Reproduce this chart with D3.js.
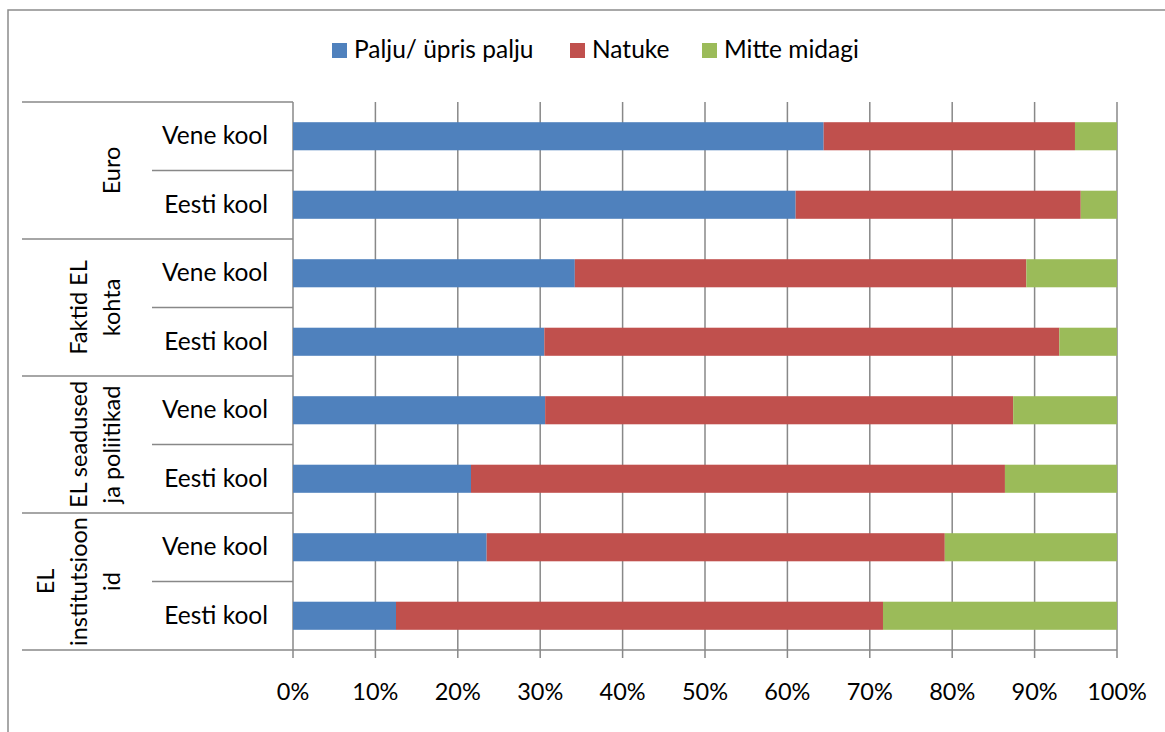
<!DOCTYPE html>
<html>
<head>
<meta charset="utf-8">
<script src="https://cdn.jsdelivr.net/npm/d3@7"></script>
<style>
  body { margin: 0; background: #fff; }
  text { font-family: Lato, "Open Sans", sans-serif; fill: #000; }
</style>
</head>
<body>
<svg id="chart"></svg>
<script>
// data
var groups = [["Euro"], ["Faktid EL", "kohta"], ["EL seadused", "ja poliitikad"], ["EL", "institutsioon", "id"]];
var schools = ["Vene kool", "Eesti kool"];
var seriesNames = ["Palju/ üpris palju", "Natuke", "Mitte midagi"];
var palju = [64.4, 61.0, 34.2, 30.5, 30.6, 21.6, 23.5, 12.5];
var natuke = [30.5, 34.6, 54.8, 62.5, 56.8, 64.8, 55.6, 59.1];
var mitte = [5.1, 4.4, 11.0, 7.0, 12.6, 13.6, 20.9, 28.4];
var ticks = [0, 10, 20, 30, 40, 50, 60, 70, 80, 90, 100];
var colors = ["#4F81BD", "#C0504D", "#9BBB59"];

var width = 1165, height = 732;
var fs = "23.5px", fsBig = "24.5px";
var svg = d3.select("#chart").attr("width", width).attr("height", height);

// outer chart border (right/bottom fall off the picture)
svg.append("rect").attr("x", 8).attr("y", 10).attr("width", 1170).attr("height", 740)
  .attr("fill", "none").attr("stroke", "#8c8c8c").attr("stroke-width", 1.5);

var plotL = 293, plotR = 1117, plotT = 102, plotB = 650;
var axisCol = "#888";

// rows: one per group/school pair
var rows = [];
groups.forEach(function (g, gi) {
  schools.forEach(function (s, si) {
    var i = gi * 2 + si;
    rows.push({ id: i, group: gi, school: s, palju: palju[i], natuke: natuke[i], mitte: mitte[i] });
  });
});

var x = d3.scaleLinear().domain([0, 100]).range([plotL, plotR]);
var y = d3.scaleBand().domain(rows.map(function (d) { return d.id; }))
  .range([plotT, plotB]).paddingInner(0.59).paddingOuter(0.295);
var step = y.step();

// gridlines with tick stubs below
svg.append("g").selectAll("line").data(ticks).enter().append("line")
  .attr("x1", function (d) { return x(d); }).attr("x2", function (d) { return x(d); })
  .attr("y1", plotT).attr("y2", plotB + 8)
  .attr("stroke", axisCol).attr("stroke-width", 1.5);

// bottom axis line
svg.append("line").attr("x1", plotL).attr("x2", plotR).attr("y1", plotB).attr("y2", plotB)
  .attr("stroke", axisCol).attr("stroke-width", 1.5);

// tick labels
svg.append("g").selectAll("text").data(ticks).enter().append("text")
  .attr("x", function (d) { return x(d); }).attr("y", 700)
  .attr("text-anchor", "middle").style("font-size", fs)
  .text(function (d) { return d + "%"; });

// stacked bars
var stack = d3.stack().keys(["palju", "natuke", "mitte"]);
var layers = stack(rows);
svg.append("g").selectAll("g").data(layers).enter().append("g")
  .attr("fill", function (d, i) { return colors[i]; })
  .selectAll("rect").data(function (d) { return d; }).enter().append("rect")
  .attr("x", function (d) { return x(d[0]); })
  .attr("width", function (d) { return x(d[1]) - x(d[0]); })
  .attr("y", function (d) { return y(d.data.id); })
  .attr("height", y.bandwidth());

// category axis: group separators and school separators
var groupLines = d3.range(groups.length + 1);
svg.append("g").selectAll("line").data(groupLines).enter().append("line")
  .attr("x1", 22).attr("x2", plotL)
  .attr("y1", function (d) { return plotT + d * step * 2; })
  .attr("y2", function (d) { return plotT + d * step * 2; })
  .attr("stroke", axisCol).attr("stroke-width", 1.5);
svg.append("g").selectAll("line").data(groups).enter().append("line")
  .attr("x1", 152).attr("x2", plotL)
  .attr("y1", function (d, i) { return plotT + (i * 2 + 1) * step; })
  .attr("y2", function (d, i) { return plotT + (i * 2 + 1) * step; })
  .attr("stroke", axisCol).attr("stroke-width", 1.5);

// school labels
svg.append("g").selectAll("text").data(rows).enter().append("text")
  .attr("x", 268)
  .attr("y", function (d) { return y(d.id) + y.bandwidth() / 2 + 8; })
  .attr("text-anchor", "end").style("font-size", fsBig)
  .text(function (d) { return d.school; });

// group labels, rotated, lines stacked towards the left
groups.forEach(function (lines, gi) {
  var cy = plotT + (gi * 2 + 1) * step;
  var n = lines.length;
  lines.forEach(function (t, li) {
    var cx = 112 - (n - 1 - li) * 33 + 8;
    svg.append("text")
      .attr("transform", "translate(" + cx + "," + cy + ") rotate(-90)")
      .attr("text-anchor", "middle").style("font-size", fs)
      .text(t);
  });
});

// legend
var legX = [332, 570, 702];
var leg = svg.append("g").selectAll("g").data(seriesNames).enter().append("g")
  .attr("transform", function (d, i) { return "translate(" + legX[i] + ",43)"; });
leg.append("rect").attr("width", 15).attr("height", 15)
  .attr("fill", function (d, i) { return colors[i]; });
leg.append("text").attr("x", 22).attr("y", 15).style("font-size", fsBig)
  .text(function (d) { return d; });
</script>
</body>
</html>
